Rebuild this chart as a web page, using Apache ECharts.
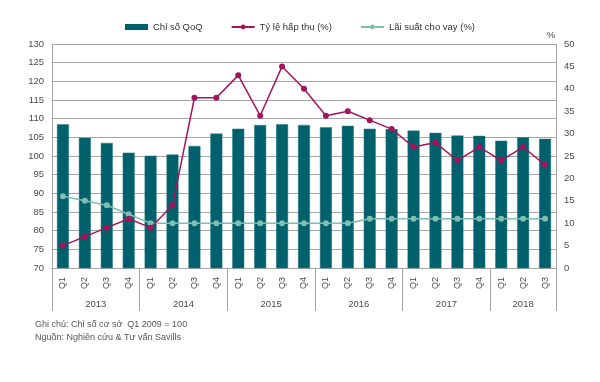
<!DOCTYPE html>
<html>
<head>
<meta charset="utf-8">
<script src="https://cdn.jsdelivr.net/npm/echarts@6/dist/echarts.min.js"></script>
<style>html,body{margin:0;padding:0;background:#fff}#c{width:600px;height:382px}</style>
</head>
<body>
<div id="c"></div>
<script>
// ---- data ----
const years = ['2013', '2014', '2015', '2016', '2017', '2018'];
const quartersPerYear = [4, 4, 4, 4, 4, 3];
const quarterLabels = ['Q1','Q2','Q3','Q4','Q1','Q2','Q3','Q4','Q1','Q2','Q3','Q4','Q1','Q2','Q3','Q4','Q1','Q2','Q3','Q4','Q1','Q2','Q3'];
const indexQoQ = [108.5,104.9,103.5,100.9,100.1,100.4,102.7,106.0,107.3,108.3,108.5,108.3,107.7,108.1,107.3,107.2,106.8,106.2,105.5,105.4,104.1,105.0,104.6];
const absorption = [5,7,9,11,9,14,38,38,43,34,45,40,34,35,33,31,27,28,24,27,24,27,23];
const lendingRate = [16,15,14,12,10,10,10,10,10,10,10,10,10,10,11,11,11,11,11,11,11,11,11];
const leftTicks = {min: 70, max: 130, interval: 5};
const rightTicks = {min: 0, max: 50, interval: 5};
const noteLines = ['Ghi chú: Chỉ số cơ sở  Q1 2009 = 100', 'Nguồn: Nghiên cứu & Tư vấn Savills'];

// year boundaries / centres derived from data
const bounds = [0];
quartersPerYear.forEach(n => bounds.push(bounds[bounds.length - 1] + n));
const centres = years.map((y, i) => (bounds[i] + bounds[i + 1]) / 2);

const FONT = 'Liberation Sans, Arial, sans-serif';
const GRID = '#a6a6a6';
const LBL = '#4a4a4a';
const chart = echarts.init(document.getElementById('c'), null, {renderer: 'canvas'});
chart.setOption({
  animation: false,
  textStyle: {fontFamily: FONT},
  legend: {
    top: 17, left: 'center', itemGap: 28, itemWidth: 23, itemHeight: 6,
    textStyle: {fontSize: 9.5, color: '#333', fontFamily: FONT},
    data: [
      {name: 'Chỉ số QoQ', icon: 'rect', itemStyle: {color: '#00606B', borderWidth: 0}},
      {name: 'Tỷ lệ hấp thu (%)'},
      {name: 'Lãi suất cho vay (%)'}
    ]
  },
  grid: {left: 52, right: 44, top: 44, bottom: 114, containLabel: false},
  xAxis: [
    {
      type: 'category', data: quarterLabels, position: 'bottom',
      axisLine: {show: true, lineStyle: {color: GRID}},
      axisTick: {show: false},
      axisLabel: {rotate: 90, margin: 9, fontSize: 9, color: LBL, fontFamily: FONT}
    },
    {
      type: 'value', min: 0, max: bounds[bounds.length - 1], position: 'bottom',
      axisLine: {show: false}, splitLine: {show: false},
      axisTick: {show: true, customValues: bounds, length: 43, lineStyle: {color: GRID}},
      axisLabel: {
        customValues: centres, margin: 31, fontSize: 9.5, color: LBL, fontFamily: FONT,
        formatter: v => { const i = centres.indexOf(v); return i >= 0 ? years[i] : ''; }
      }
    }
  ],
  yAxis: [
    {
      type: 'value', min: leftTicks.min, max: leftTicks.max, interval: leftTicks.interval,
      axisLine: {show: true, lineStyle: {color: GRID}}, axisTick: {show: false},
      splitLine: {show: true, lineStyle: {color: GRID, width: 1}},
      axisLabel: {margin: 8, fontSize: 9.5, color: LBL, fontFamily: FONT}
    },
    {
      type: 'value', min: rightTicks.min, max: rightTicks.max, interval: rightTicks.interval,
      position: 'right', name: '%', nameLocation: 'end', nameGap: 4,
      nameTextStyle: {fontSize: 9.5, color: LBL, align: 'center', padding: [0, 10, 0, 0], fontFamily: FONT},
      axisLine: {show: true, lineStyle: {color: GRID}}, axisTick: {show: false},
      splitLine: {show: false},
      axisLabel: {margin: 8, fontSize: 9.5, color: LBL, fontFamily: FONT}
    }
  ],
  series: [
    {
      name: 'Chỉ số QoQ', type: 'bar', data: indexQoQ, xAxisIndex: 0, yAxisIndex: 0,
      barWidth: 12, itemStyle: {color: '#00606B', borderColor: '#2f7f88', borderWidth: 0.5}
    },
    {
      name: 'Tỷ lệ hấp thu (%)', type: 'line', data: absorption, xAxisIndex: 0, yAxisIndex: 1,
      symbol: 'circle', symbolSize: 6, lineStyle: {color: '#A3155B', width: 1.5},
      itemStyle: {color: '#A3155B'}, z: 4
    },
    {
      name: 'Lãi suất cho vay (%)', type: 'line', data: lendingRate, xAxisIndex: 0, yAxisIndex: 1,
      symbol: 'circle', symbolSize: 6, lineStyle: {color: '#7FBDB1', width: 1.5},
      itemStyle: {color: '#7FBDB1'}, z: 3
    }
  ],
  graphic: noteLines.map((t, i) => ({
    type: 'text', left: 35, top: 320 + i * 13,
    style: {text: t, fontSize: 9, fill: '#555', fontFamily: FONT}
  }))
});
</script>
</body>
</html>
